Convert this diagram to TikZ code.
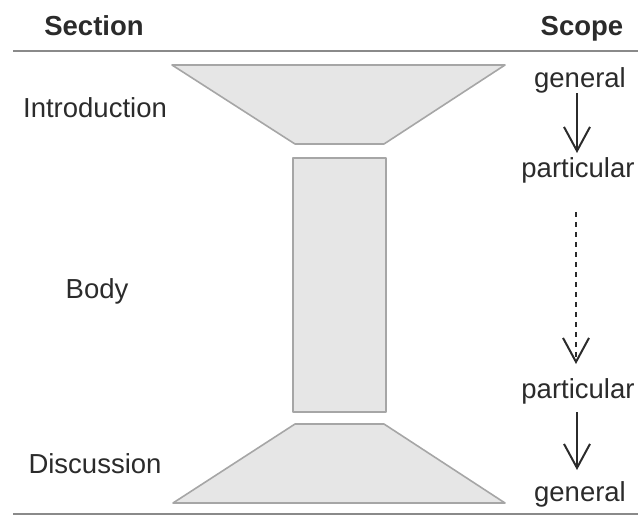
\documentclass[tikz,border=0pt]{standalone}
\usepackage{fontspec}
\setmainfont{Liberation Sans}
\usetikzlibrary{arrows.meta}
\definecolor{shapefill}{HTML}{E6E6E6}
\definecolor{shapeline}{HTML}{A6A6A6}
\definecolor{txt}{HTML}{2B2B2B}
\definecolor{rulecol}{HTML}{8A8A8A}
\tikzset{
  lbl/.style={anchor=base, inner sep=0pt, text=txt, font=\fontsize{27.5}{33}\selectfont},
  hdr/.style={lbl, font=\fontsize{27.5}{33}\selectfont\bfseries},
  part/.style={fill=shapefill, draw=shapeline, line width=1.6pt, line join=round},
  rulel/.style={draw=rulecol, line width=2.6pt},
  flow/.style={draw=txt, line width=2pt, -{Straight Barb[length=24pt, width=26pt, line width=2pt]}},
  flowdash/.style={flow, dash pattern=on 5pt off 5pt},
}
\begin{document}
\begin{tikzpicture}[x=1pt, y=-1pt]
\useasboundingbox (0,0) rectangle (638,517);
% rules
\coordinate (tl) at (13,51); \coordinate (tr) at (638,51);
\coordinate (bl) at (13,514); \coordinate (br) at (638,514);
\draw[rulel] (tl) -- (tr);
\draw[rulel] (bl) -- (br);
% headers
\node[hdr] (hsec) at (94,35) {Section};
\node[hdr] (hsco) at (582,35) {Scope};
% shapes
\draw[part] (172,65) -- (505,65) -- (384,144) -- (295,144) -- cycle;
\draw[part] (293,158) rectangle (386,412);
\draw[part] (295,424) -- (384,424) -- (505,503) -- (173,503) -- cycle;
% section labels
\node[lbl] (intro) at (95,117) {Introduction};
\node[lbl] (body) at (97,298) {Body};
\node[lbl] (disc) at (95,473) {Discussion};
% scope labels
\node[lbl] (g1) at (580,87) {general};
\node[lbl] (p1) at (578,177) {particular};
\node[lbl] (p2) at (578,398) {particular};
\node[lbl] (g2) at (580,501) {general};
% arrows
\coordinate (a1s) at (577,93); \coordinate (a1e) at (577,153);
\coordinate (a2s) at (576,212); \coordinate (a2e) at (576,364);
\coordinate (a3s) at (577,412); \coordinate (a3e) at (577,470);
\draw[flow] (a1s) -- (a1e);
\draw[flowdash] (a2s) -- (a2e);
\draw[flow] (a3s) -- (a3e);
\end{tikzpicture}
\end{document}
